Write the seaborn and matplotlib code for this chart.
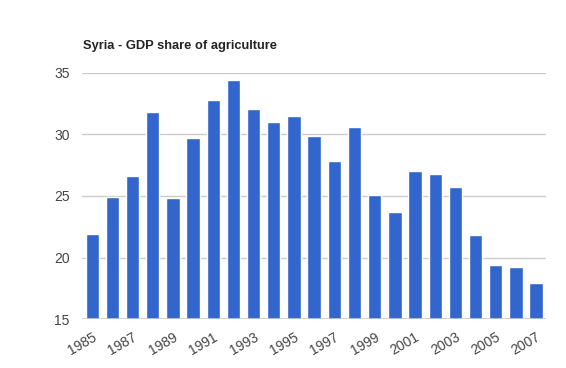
import seaborn as sns
import numpy as np
import pandas as pd
import matplotlib.pyplot as plt

years = [str(y) for y in range(1985, 2008)]
share = [21.9, 24.9, 26.6, 31.8, 24.8, 29.7, 32.8, 34.4, 32.1, 31.0, 31.5, 29.9,
         27.8, 30.6, 25.1, 23.7, 27.0, 26.8, 25.7, 21.8, 19.4, 19.2, 17.9]
y_ticks = [15, 20, 25, 30, 35]

sns.set_style("white")
plt.rcParams['font.family'] = ['Liberation Sans', 'DejaVu Sans']

df = pd.DataFrame({'year': years, 'share': share})

fig = plt.figure(figsize=(5.66, 3.68), dpi=100)
ax = fig.add_axes([0.145, 0.133, 0.82, 0.669])

sns.barplot(data=df, x='year', y='share', color='#3366cc', saturation=1,
            width=0.66, ax=ax, zorder=3)

ax.set_ylim(15, 35)
ax.set_yticks(y_ticks)
ax.set_xlim(-0.5, len(years) - 0.5)
ax.grid(axis='y', color='#cccccc', linewidth=1, zorder=0)
for s in ax.spines.values():
    s.set_visible(False)
ax.axhline(15, color='#cccccc', linewidth=1.2, zorder=4)

ax.set_xticks(range(0, len(years), 2))
ax.set_xticklabels(years[::2], rotation=30, ha='right', rotation_mode='anchor')
ax.tick_params(axis='both', length=0, labelsize=10, labelcolor='#444444')
ax.tick_params(axis='y', pad=9)
ax.tick_params(axis='x', pad=8)
ax.set_xlabel('')
ax.set_ylabel('')

fig.text(0.147, 0.876, 'Syria - GDP share of agriculture', fontsize=9.3,
         fontweight='bold', color='#222222', va='center')

fig.savefig('out.png', dpi=100)
